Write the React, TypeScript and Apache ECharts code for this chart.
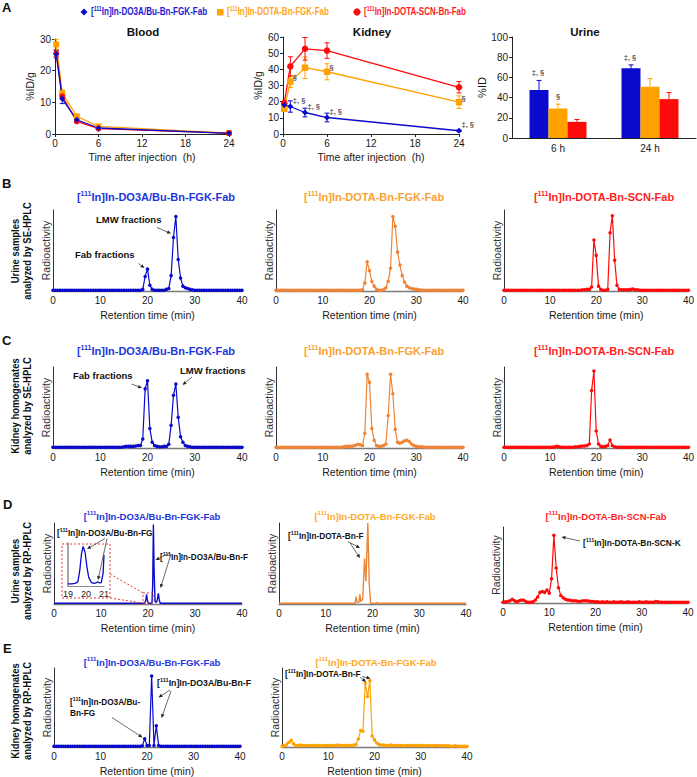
import React, { useEffect, useRef } from 'react';
import * as echarts from 'echarts';

const W = 697;
const H = 777;
const FONT = '"Liberation Sans", Arial, Helvetica, sans-serif';

const BLUE = '#0A0ACC';
const ORANGE = '#FFA200';
const ORANGE2 = '#F08436';
const RED = '#FF0A0A';
const T_BLUE = '#1E35DD';
const T_ORANGE = '#F7A232';
const T_RED = '#FF1E1E';

// ---------- Panel A data ----------
const timesH = [0.17, 1, 3, 6, 24];
const bloodBlue = [25.2, 11.1, 4.5, 1.9, 0.2];
const bloodBlueErr = [1.2, 1.5, 0.5, 0.4, 0.1];
const bloodOrange = [28.3, 12.9, 5.6, 2.4, 0.3];
const bloodOrangeErr = [1.6, 1.0, 0.5, 0.4, 0.1];
const bloodRed = [25.5, 11.9, 4.0, 1.7, 0.3];
const bloodRedErr = [1.0, 0.8, 0.4, 0.3, 0.1];

const kidBlue = [18, 17, 13.3, 10.2, 2];
const kidBlueErr = [1.5, 3.5, 2.7, 2.7, 0.5];
const kidOrange = [15.6, 32.4, 41, 38.5, 19.7];
const kidOrangeErr = [1, 3.7, 6.7, 5, 3.9];
const kidRed = [19, 41.8, 52.7, 51.6, 28.9];
const kidRedErr = [1.5, 6, 7, 4.8, 3.5];
const kidBlueSig = ['', '‡, §', '‡, §', '‡, §', '‡, §'];
const kidOrangeSig = ['', '§', '', '§', '§'];

const urineCats = ['6 h', '24 h'];
const urineBlue = [47.5, 69];
const urineBlueErr = [9.5, 3.4];
const urineOrange = [29.2, 50.8];
const urineOrangeErr = [4.3, 8];
const urineRed = [16, 38.5];
const urineRedErr = [2.3, 6.5];
const urineBlueSig = ['‡, §', '‡, §'];
const urineOrangeSig = ['§', ''];

// ---------- Chromatograms (relative radioactivity, sampled every 0.5 min from 0 to 40 min) ----------
const SAMPLE_STEP = 0.5;

const seUrineDO3A = [
  1, 1, 1, 1, 1, 1, 1, 1, 1, 1,
  1, 1, 1, 1, 1, 1, 1, 1, 1, 1,
  1, 1, 1, 1, 1, 1, 1, 1, 1, 1,
  1, 1, 1, 1, 1, 1, 1, 1, 2, 18,
  27, 7, 2, 1, 1, 1, 1, 1, 2, 3,
  19, 66, 92, 39, 16, 6, 4, 3, 2, 1.5,
  1, 1, 1, 1, 1, 1, 1, 1, 1, 1,
  1, 1, 1, 1, 1, 1, 1, 1, 1, 1,
  1,
];
const seUrineFGK = [
  1, 1, 1, 1, 1, 1, 1, 1, 1, 1,
  1, 1, 1, 1, 1, 1, 1, 1, 1, 1,
  1, 1, 1, 1, 1, 1, 1, 1, 1, 1,
  1, 1, 1, 1, 1, 1, 1, 1.5, 10, 36,
  25, 12, 6, 2, 1, 1, 1.5, 4, 12, 28,
  92, 80, 48, 32, 19, 11, 6, 4, 3, 2.5,
  2, 1.5, 1.2, 1, 1, 1, 1, 1, 1, 1,
  1, 1, 1, 1, 1, 1, 1, 1, 1, 1,
  1,
];
const seUrineSCN = [
  1, 1, 1, 1, 1, 1, 1, 1, 1, 1,
  1, 1, 1, 1, 1, 1, 1, 1, 1, 1,
  1, 1, 1, 1, 1, 1, 1, 1, 1, 1,
  1, 1, 1, 1, 1.5, 1.5, 2, 2, 5, 63,
  44, 6, 2, 1, 1, 2, 72, 93, 38, 7,
  2, 1.5, 1.5, 1.5, 1.5, 2, 2.5, 1.5, 1.5, 1,
  1, 1, 1, 1, 1, 1, 1, 1, 1, 1,
  1, 1, 1, 1, 1, 1, 1, 1, 1, 1,
  1,
];
const seKidDO3A = [
  1, 1, 1, 1, 1, 1, 1, 1, 1, 1,
  1, 1, 1, 1, 1, 1, 1, 1, 1, 1,
  1, 1, 1, 1, 1, 1, 1, 1, 1, 1,
  1.5, 2, 2, 2, 2, 2.5, 3, 3, 11, 73,
  83, 24, 7, 3, 2, 1.5, 1.5, 2, 2, 4.5,
  28, 65, 79, 38, 14, 7, 3, 2, 1.5, 1,
  1, 1, 1, 1, 1, 1, 1, 1, 1, 1,
  1, 1, 1, 1, 1, 1, 1, 1, 1, 1,
  1,
];
const seKidFGK = [
  1, 1, 1, 1, 1, 1, 1, 1, 1, 1,
  1, 1, 1, 1, 1, 1, 1, 1, 1, 1,
  1, 1, 1, 1, 1, 1, 1, 1, 1, 1.5,
  2, 2, 2, 2.5, 3.5, 4.5, 4, 3, 18, 91,
  81, 24, 9.5, 3, 2, 2, 3, 5, 40, 91,
  67, 23, 7, 6, 7, 9, 9.5, 8, 5, 3,
  2, 1.5, 1.5, 1.2, 1, 1, 1, 1, 1, 1,
  1, 1, 1, 1, 1, 1, 1, 1, 1, 1,
  1,
];
const seKidSCN = [
  1, 1, 1, 1, 1, 1, 1, 1, 1, 1,
  1, 1, 1, 1, 1, 1, 1, 1, 1, 1,
  1, 1, 1.5, 2, 1.5, 1, 1, 1, 1, 1,
  1, 1.5, 1.5, 2, 2.5, 2.5, 3, 5, 71, 95,
  21, 5, 2, 1.5, 2, 3, 10, 3, 1.5, 1,
  1, 1, 1, 1, 1, 1, 1, 1, 1, 1,
  1, 1, 1, 1, 1, 1, 1, 1, 1, 1,
  1, 1, 1, 1, 1, 1, 1, 1, 1, 1,
  1,
];
const rpUrineSCN = [
  1, 1.5, 2, 3, 5, 3, 1.5, 3, 4, 3.5,
  1.5, 1, 1, 1.5, 4, 8, 14, 15, 14, 17,
  13, 32, 89, 46, 20, 10, 7, 5, 4, 3.5,
  3, 3, 2.5, 2, 2.5, 3, 3, 2.5, 2, 2,
  1.5, 1.5, 1, 1.5, 1, 1.5, 1, 1, 1.5, 1,
  1, 1.5, 1, 1, 1.5, 1, 1, 1, 1, 1.5,
  1, 1, 1.5, 1, 1, 1, 2, 1.5, 1, 1,
  1, 1, 1, 1, 1, 1, 1, 1, 1, 1,
  1,
];
const rpKidDO3A = [
  1, 1, 1, 1, 1, 1, 1, 1, 1, 1,
  1, 1, 1, 1, 1, 1, 1, 1, 1, 1,
  1, 1, 1, 1, 1, 1, 1, 1, 1, 1,
  1, 1, 1, 1, 1, 1, 1, 1, 1.5, 10.5,
  2, 2, 90, 2, 27, 2, 1, 1, 1, 1,
  1, 1, 1, 1, 1, 1, 1, 1, 1, 1,
  1, 1, 1, 1, 1, 1, 1, 1, 1, 1,
  1, 1, 1, 1, 1, 1, 1, 1, 1, 1,
  1,
];
const rpKidFGK = [
  1, 1.5, 3, 6, 8.5, 4, 2, 2, 2.5, 2,
  2, 2, 1.5, 2, 2, 2, 2, 1.5, 2, 2,
  2, 2, 2, 2, 2.5, 2, 2, 2, 2, 2,
  2, 2.5, 3, 10, 21, 20, 81, 64, 84, 14,
  9, 5, 3, 2.5, 2.5, 2, 2, 2.5, 2, 2,
  2, 2, 2, 1.5, 2, 2, 2, 2, 1.5, 2,
  2, 2, 1.5, 2, 2, 1.5, 2, 2, 1.5, 1.5,
  1.5, 1.5, 1.5, 1, 1, 1.5, 1, 1, 1, 1,
  1,
];
// RP-HPLC urine (continuous traces, [min, relative activity])
const rpUrineDO3A = [
  [0, 1], [19.3, 1], [19.55, 5], [19.7, 12], [19.85, 5], [20.1, 1], [20.85, 1], [21.0, 25],
  [21.15, 98], [21.3, 40], [21.5, 3], [21.8, 2], [22.0, 6], [22.2, 13], [22.4, 5], [22.6, 1], [40, 1],
];
const rpUrineDO3AInset = [
  [19.0, 5], [19.2, 5], [19.4, 6], [19.55, 10], [19.65, 35], [19.75, 75], [19.84, 92], [19.95, 78],
  [20.05, 45], [20.15, 20], [20.3, 8], [20.45, 6], [20.55, 7], [20.65, 10], [20.75, 7], [20.85, 8],
  [20.95, 30], [21.0, 72],
];
const rpUrineFGK = [
  [0, 1], [16.3, 1], [16.5, 9], [16.7, 2], [17.1, 2], [17.3, 12], [17.5, 3], [17.9, 6], [18.3, 56],
  [18.6, 28], [19.0, 100], [19.3, 25], [19.6, 1], [20.8, 1], [20.9, 2], [21.1, 1], [40, 1],
];

const toPairs = (ys: number[]) => ys.map((y, i) => [i * SAMPLE_STEP, y]);

// ---------- helpers ----------
function sup(rest: string, size: number, color: string) {
  return {
    text: `{n|[}{s|111}{n|${rest}}`,
    rich: {
      n: { fontSize: size, fontWeight: 'bold', fill: color, color, fontFamily: FONT, lineHeight: size + 3 },
      s: { fontSize: Math.round(size * 0.64 * 10) / 10, fontWeight: 'bold', fill: color, color, fontFamily: FONT, verticalAlign: 'top' },
    },
  };
}

function txt(x: number, y: number, text: string, o: any = {}) {
  const align = o.align || 'left';
  const valign = o.valign || 'middle';
  const style: any = {
    text,
    fill: o.color || '#1a1a1a',
    fontSize: o.size || 10,
    fontWeight: o.bold ? 'bold' : 'normal',
    fontFamily: FONT,
    align,
    verticalAlign: valign,
    textAlign: align,
    textVerticalAlign: valign,
  };
  if (o.rich) style.rich = o.rich;
  if (o.lh) style.lineHeight = o.lh;
  return { type: 'text', x, y, rotation: o.rot || 0, scaleX: o.sx || 1, z: 100, silent: true, style };
}

function supTxt(x: number, y: number, rest: string, size: number, color: string, o: any = {}) {
  const s = sup(rest, size, color);
  return txt(x, y, s.text, { ...o, rich: s.rich, color, size, bold: true });
}

function arrow(x1: number, y1: number, x2: number, y2: number) {
  const dx = x2 - x1;
  const dy = y2 - y1;
  const L = Math.hypot(dx, dy);
  const ux = dx / L;
  const uy = dy / L;
  const hl = 4;
  const hw = 1.8;
  const bx = x2 - ux * hl;
  const by = y2 - uy * hl;
  return [
    { type: 'line', z: 100, silent: true, shape: { x1, y1, x2: bx, y2: by }, style: { stroke: '#444', lineWidth: 0.8 } },
    {
      type: 'polygon', z: 100, silent: true,
      shape: { points: [[x2, y2], [bx - uy * hw, by + ux * hw], [bx + uy * hw, by - ux * hw]] },
      style: { fill: '#222' },
    },
  ];
}

function errSeries(gi: number, xs: number[], vals: number[], errs: number[], color: string, dx = 0, both = true) {
  return {
    type: 'custom',
    xAxisIndex: gi,
    yAxisIndex: gi,
    silent: true,
    z: 3,
    data: xs.map((x, i) => [x, vals[i], errs[i]]),
    renderItem: (params: any, api: any) => {
      const x = api.value(0);
      const v = api.value(1);
      const e = api.value(2);
      const p1 = api.coord([x, v + e]);
      const p2 = api.coord([x, both ? Math.max(0, v - e) : v]);
      const c = 2.5;
      const st = { stroke: color, lineWidth: 1 };
      const children: any[] = [
        { type: 'line', shape: { x1: p1[0] + dx, y1: p1[1], x2: p2[0] + dx, y2: p2[1] }, style: st },
        { type: 'line', shape: { x1: p1[0] + dx - c, y1: p1[1], x2: p1[0] + dx + c, y2: p1[1] }, style: st },
      ];
      if (both) children.push({ type: 'line', shape: { x1: p2[0] - c, y1: p2[1], x2: p2[0] + c, y2: p2[1] }, style: st });
      return { type: 'group', children };
    },
  };
}

function buildOption() {
  const grid: any[] = [];
  const xAxis: any[] = [];
  const yAxis: any[] = [];
  const series: any[] = [];
  const els: any[] = [];

  const axisTxt = { fontSize: 10, color: '#1a1a1a', fontFamily: FONT };
  const blackLine = { show: true, lineStyle: { color: '#222', width: 1 } };

  // ---- Panel A: Blood (0) ----
  grid.push({ left: 55, top: 39, width: 174, height: 95 });
  xAxis.push({
    gridIndex: 0, type: 'value', min: 0, max: 24, interval: 6,
    axisLine: blackLine, axisTick: { show: true, length: 3, lineStyle: { color: '#222' } }, splitLine: { show: false },
    axisLabel: { ...axisTxt, margin: 4 },
    name: 'Time after injection  (h)', nameLocation: 'middle', nameGap: 17, nameTextStyle: { ...axisTxt, fontSize: 10.5 },
  });
  yAxis.push({
    gridIndex: 0, type: 'value', min: 0, max: 30, interval: 10,
    axisLine: blackLine, axisTick: { show: true, length: 3, lineStyle: { color: '#222' } }, splitLine: { show: false },
    axisLabel: { ...axisTxt, margin: 4 },
    name: '%ID/g', nameLocation: 'middle', nameGap: 20, nameTextStyle: { ...axisTxt, fontSize: 10.5 },
  });

  // ---- Kidney (1) ----
  grid.push({ left: 283, top: 37, width: 176, height: 97 });
  xAxis.push({
    gridIndex: 1, type: 'value', min: 0, max: 24, interval: 6,
    axisLine: blackLine, axisTick: { show: true, length: 3, lineStyle: { color: '#222' } }, splitLine: { show: false },
    axisLabel: { ...axisTxt, margin: 4 },
    name: 'Time after injection  (h)', nameLocation: 'middle', nameGap: 17, nameTextStyle: { ...axisTxt, fontSize: 10.5 },
  });
  yAxis.push({
    gridIndex: 1, type: 'value', min: 0, max: 60, interval: 10,
    axisLine: blackLine, axisTick: { show: true, length: 3, lineStyle: { color: '#222' } }, splitLine: { show: false },
    axisLabel: { ...axisTxt, margin: 4 },
    name: '%ID/g', nameLocation: 'middle', nameGap: 16, nameTextStyle: { ...axisTxt, fontSize: 10.5 },
  });

  // ---- Urine (2) ----
  grid.push({ left: 512, top: 37, width: 184, height: 101 });
  xAxis.push({
    gridIndex: 2, type: 'category', data: urineCats,
    axisLine: blackLine, axisTick: { show: false }, axisLabel: { ...axisTxt, margin: 5 },
  });
  yAxis.push({
    gridIndex: 2, type: 'value', min: 0, max: 100, interval: 20,
    axisLine: blackLine, axisTick: { show: true, length: 3, lineStyle: { color: '#222' } }, splitLine: { show: false },
    axisLabel: { ...axisTxt, margin: 4 },
    name: '%ID', nameLocation: 'middle', nameGap: 22, nameTextStyle: { ...axisTxt, fontSize: 11 },
  });

  const lineS = (gi: number, xs: number[], ys: number[], color: string, symbol: string, size: number) => ({
    type: 'line', xAxisIndex: gi, yAxisIndex: gi, silent: true, z: 4,
    data: xs.map((x, i) => [x, ys[i]]), symbol, symbolSize: size, showSymbol: true,
    lineStyle: { color, width: 1.3 }, itemStyle: { color },
  });

  // blood
  series.push(errSeries(0, timesH, bloodOrange, bloodOrangeErr, ORANGE));
  series.push(errSeries(0, timesH, bloodRed, bloodRedErr, RED));
  series.push(errSeries(0, timesH, bloodBlue, bloodBlueErr, BLUE));
  series.push(lineS(0, timesH, bloodOrange, ORANGE, 'rect', 6));
  series.push(lineS(0, timesH, bloodRed, RED, 'circle', 6));
  series.push(lineS(0, timesH, bloodBlue, BLUE, 'diamond', 6));
  // kidney
  series.push(errSeries(1, timesH, kidOrange, kidOrangeErr, ORANGE));
  series.push(errSeries(1, timesH, kidRed, kidRedErr, RED));
  series.push(errSeries(1, timesH, kidBlue, kidBlueErr, BLUE));
  series.push(lineS(1, timesH, kidOrange, ORANGE, 'rect', 6.5));
  series.push(lineS(1, timesH, kidRed, RED, 'circle', 6.5));
  series.push(lineS(1, timesH, kidBlue, BLUE, 'diamond', 6));
  const sigLabel = { show: true, position: 'right', distance: 2, fontSize: 7.5, fontWeight: 'bold', color: '#222', fontFamily: FONT };
  series.push({
    type: 'scatter', xAxisIndex: 1, yAxisIndex: 1, silent: true, z: 6, symbolSize: 1,
    itemStyle: { color: 'rgba(0,0,0,0)' },
    data: timesH.map((t, i) => ({ value: [t, kidBlue[i]], label: { ...sigLabel, offset: [0, -6], formatter: kidBlueSig[i] } })),
  });
  series.push({
    type: 'scatter', xAxisIndex: 1, yAxisIndex: 1, silent: true, z: 6, symbolSize: 1,
    itemStyle: { color: 'rgba(0,0,0,0)' },
    data: timesH.map((t, i) => ({ value: [t, kidOrange[i]], label: { ...sigLabel, offset: [0, -4], formatter: kidOrangeSig[i] } })),
  });
  // urine bars
  const barS = (vals: number[], color: string) => ({
    type: 'bar', xAxisIndex: 2, yAxisIndex: 2, silent: true, data: vals, barWidth: 19, barGap: '0%',
    itemStyle: { color },
  });
  series.push(barS(urineBlue, BLUE));
  series.push(barS(urineOrange, ORANGE));
  series.push(barS(urineRed, RED));
  series.push(errSeries(2, [0, 1], urineBlue, urineBlueErr, BLUE, -19, false));
  series.push(errSeries(2, [0, 1], urineOrange, urineOrangeErr, ORANGE, 0, false));
  series.push(errSeries(2, [0, 1], urineRed, urineRedErr, RED, 19, false));
  series.push({
    type: 'scatter', xAxisIndex: 2, yAxisIndex: 2, silent: true, z: 6, symbolSize: 1,
    itemStyle: { color: 'rgba(0,0,0,0)' },
    data: [0, 1].map((c, i) => ({
      value: [c, urineBlue[i] + urineBlueErr[i]],
      label: { show: true, position: 'top', distance: 3, offset: [-20, 0], formatter: urineBlueSig[i], fontSize: 7.5, fontWeight: 'bold', color: '#222' },
    })),
  });
  series.push({
    type: 'scatter', xAxisIndex: 2, yAxisIndex: 2, silent: true, z: 6, symbolSize: 1,
    itemStyle: { color: 'rgba(0,0,0,0)' },
    data: [0, 1].map((c, i) => ({
      value: [c, urineOrange[i] + urineOrangeErr[i]],
      label: { show: true, position: 'top', distance: 3, offset: [0, 0], formatter: urineOrangeSig[i], fontSize: 7.5, fontWeight: 'bold', color: '#222' },
    })),
  });

  // ---- Chromatograms ----
  const chroms: any[] = [
    { l: 53, t: 210, w: 189, h: 81, c: BLUE, d: toPairs(seUrineDO3A), m: true },
    { l: 276, t: 210, w: 187, h: 81, c: ORANGE2, d: toPairs(seUrineFGK), m: true },
    { l: 504, t: 210, w: 186, h: 81, c: RED, d: toPairs(seUrineSCN), m: true },
    { l: 53, t: 367, w: 189, h: 81, c: BLUE, d: toPairs(seKidDO3A), m: true },
    { l: 276, t: 367, w: 187, h: 81, c: ORANGE2, d: toPairs(seKidFGK), m: true },
    { l: 504, t: 367, w: 186, h: 81, c: RED, d: toPairs(seKidSCN), m: true },
    { l: 54, t: 523, w: 188, h: 81, c: BLUE, d: rpUrineDO3A, m: false },
    { l: 279, t: 523, w: 187, h: 81, c: ORANGE2, d: rpUrineFGK, m: false },
    { l: 503, t: 527, w: 185, h: 76, c: RED, d: toPairs(rpUrineSCN), m: true },
    { l: 54, t: 668, w: 186, h: 79, c: BLUE, d: toPairs(rpKidDO3A), m: true },
    { l: 282, t: 668, w: 185, h: 79, c: ORANGE, d: toPairs(rpKidFGK), m: true },
  ];
  chroms.forEach((ch) => {
    const gi = grid.length;
    grid.push({ left: ch.l, top: ch.t, width: ch.w, height: ch.h });
    xAxis.push({
      gridIndex: gi, type: 'value', min: 0, max: 40, interval: 10,
      axisLine: { show: true, onZero: true, lineStyle: { color: '#7a7a7a', width: 1.3 } },
      axisTick: { show: false }, splitLine: { show: false },
      axisLabel: { ...axisTxt, margin: 4 },
      name: 'Retention time (min)', nameLocation: 'middle', nameGap: 18, nameTextStyle: { ...axisTxt, fontSize: 10.5 },
    });
    yAxis.push({
      gridIndex: gi, type: 'value', min: 0, max: 100,
      axisLine: { show: true, lineStyle: { color: '#333', width: 1 } },
      axisTick: { show: false }, axisLabel: { show: false }, splitLine: { show: false },
      name: 'Radioactivity', nameLocation: 'middle', nameGap: 2, nameTextStyle: { ...axisTxt, fontSize: 10.5, color: '#333' },
    });
    series.push({
      type: 'line', xAxisIndex: gi, yAxisIndex: gi, silent: true, data: ch.d,
      symbol: ch.m ? 'circle' : 'none', symbolSize: 3.5, showSymbol: ch.m,
      lineStyle: { color: ch.c, width: ch.m ? 1.2 : 1.4 }, itemStyle: { color: ch.c },
    });
  });

  // inset for D1
  {
    const gi = grid.length;
    grid.push({ left: 68, top: 543, width: 36, height: 43 });
    xAxis.push({
      gridIndex: gi, type: 'value', min: 19, max: 21, interval: 1,
      axisLine: { show: true, lineStyle: { color: '#8a8a8a', width: 1.2 } }, axisTick: { show: false },
      splitLine: { show: false }, axisLabel: { fontSize: 9, color: '#1a1a1a', margin: 3, fontFamily: FONT },
    });
    yAxis.push({
      gridIndex: gi, type: 'value', min: 0, max: 100,
      axisLine: { show: true, lineStyle: { color: '#8a8a8a', width: 1.5 } }, axisTick: { show: false },
      axisLabel: { show: false }, splitLine: { show: false },
    });
    series.push({
      type: 'line', xAxisIndex: gi, yAxisIndex: gi, silent: true, data: rpUrineDO3AInset,
      symbol: 'none', lineStyle: { color: BLUE, width: 1.3 },
    });
  }

  // ---- Graphics: letters, legend, titles, labels ----
  els.push(txt(2, 7, 'A', { size: 13, bold: true, color: '#111' }));
  els.push(txt(2, 183, 'B', { size: 13, bold: true, color: '#111' }));
  els.push(txt(2, 340, 'C', { size: 13, bold: true, color: '#111' }));
  els.push(txt(3, 504, 'D', { size: 13, bold: true, color: '#111' }));
  els.push(txt(3, 648, 'E', { size: 13, bold: true, color: '#111' }));

  // legend
  els.push({ type: 'polygon', z: 100, silent: true, shape: { points: [[84, 8.5], [87.5, 12], [84, 15.5], [80.5, 12]] }, style: { fill: BLUE } });
  els.push(supTxt(91, 12, 'In]In-DO3A/Bu-Bn-FGK-Fab', 10, '#1C1CD6', { sx: 0.81 }));
  els.push({ type: 'rect', z: 100, silent: true, shape: { x: 217, y: 9, width: 6.5, height: 6.5 }, style: { fill: ORANGE } });
  els.push(supTxt(227, 12, 'In]In-DOTA-Bn-FGK-Fab', 10, '#FFA51E', { sx: 0.8 }));
  els.push({ type: 'circle', z: 100, silent: true, shape: { cx: 357, cy: 12, r: 3.6 }, style: { fill: RED } });
  els.push(supTxt(364, 12, 'In]In-DOTA-SCN-Bn-Fab', 10, T_RED, { sx: 0.8 }));

  // panel A titles
  els.push(txt(143, 32, 'Blood', { size: 11.5, bold: true, align: 'center', color: '#111' }));
  els.push(txt(372, 32, 'Kidney', { size: 11.5, bold: true, align: 'center', color: '#111' }));
  els.push(txt(585, 32, 'Urine', { size: 11.5, bold: true, align: 'center', color: '#111' }));

  // chromatogram titles
  const tB = [197, 351];
  tB.forEach((y) => {
    els.push(supTxt(156, y, 'In]In-DO3A/Bu-Bn-FGK-Fab', 11, T_BLUE, { align: 'center' }));
    els.push(supTxt(374, y, 'In]In-DOTA-Bn-FGK-Fab', 11, T_ORANGE, { align: 'center' }));
    els.push(supTxt(604, y, 'In]In-DOTA-Bn-SCN-Fab', 11, T_RED, { align: 'center' }));
  });
  els.push(supTxt(152, 516, 'In]In-DO3A/Bu-Bn-FGK-Fab', 9.5, T_BLUE, { align: 'center' }));
  els.push(supTxt(375, 516, 'In]In-DOTA-Bn-FGK-Fab', 9.5, '#FFA828', { align: 'center' }));
  els.push(supTxt(606, 516, 'In]In-DOTA-Bn-SCN-Fab', 9.5, T_RED, { align: 'center' }));
  els.push(supTxt(152, 662, 'In]In-DO3A/Bu-Bn-FGK-Fab', 9.5, T_BLUE, { align: 'center' }));
  els.push(supTxt(376, 662, 'In]In-DOTA-Bn-FGK-Fab', 9.5, '#FFA828', { align: 'center' }));

  // row labels (rotated)
  const rowLab = (y: number, text: string) =>
    txt(21, y, text, { size: 10.5, bold: true, align: 'center', valign: 'middle', rot: Math.PI / 2, sx: 0.9, lh: 12, color: '#111' });
  els.push(rowLab(251, 'Urine samples\nanalyzed by SE-HPLC'));
  els.push(rowLab(406, 'Kidney homogenates\nanalyzed by SE-HPLC'));
  els.push(rowLab(571, 'Urine samples\nanalyzed by RP-HPLC'));
  els.push(rowLab(711, 'Kidney homogenates\nanalyzed by RP-HPLC'));

  // SE annotations
  els.push(txt(96, 219, 'LMW fractions', { size: 9.5, bold: true, color: '#111' }));
  els.push(...arrow(157, 227.5, 171, 233.5));
  els.push(txt(75, 254, 'Fab fractions', { size: 9.5, bold: true, color: '#111' }));
  els.push(...arrow(138.5, 263.5, 144.5, 268));
  els.push(txt(73, 375, 'Fab fractions', { size: 9.5, bold: true, color: '#111' }));
  els.push(...arrow(131.5, 384, 142, 388));
  els.push(txt(180, 370, 'LMW fractions', { size: 9.5, bold: true, color: '#111' }));
  els.push(...arrow(192, 377, 182.5, 385));

  // D1 annotations and inset box
  els.push(supTxt(57, 533, 'In]In-DO3A/Bu-Bn-FG', 9.5, '#111', { sx: 0.87 }));
  els.push(...arrow(105, 538.5, 87, 549));
  els.push(...arrow(107, 538.5, 98, 580));
  els.push(supTxt(160, 557, 'In]In-DO3A/Bu-Bn-F', 9.5, '#111', { sx: 0.86 }));
  els.push(...arrow(170, 553, 155.5, 560));
  els.push(...arrow(171, 554, 160.5, 588));
  const dash = { fill: 'none', stroke: '#E83A3A', lineWidth: 1, lineDash: [2, 2] };
  els.push({ type: 'rect', z: 99, silent: true, shape: { x: 62, y: 544, width: 48, height: 54 }, style: dash });
  els.push({ type: 'rect', z: 99, silent: true, shape: { x: 143, y: 593, width: 10, height: 10 }, style: dash });
  els.push({ type: 'line', z: 99, silent: true, shape: { x1: 110, y1: 574, x2: 143, y2: 593 }, style: dash });
  els.push({ type: 'line', z: 99, silent: true, shape: { x1: 110, y1: 598, x2: 143, y2: 603 }, style: dash });

  // D2
  els.push(supTxt(288, 536, 'In]In-DOTA-Bn-F', 9.5, '#111', { sx: 0.87 }));
  els.push(...arrow(348, 541.5, 360, 548));
  els.push(...arrow(350, 543, 360, 558));
  // D3
  els.push(supTxt(583, 543, 'In]In-DOTA-Bn-SCN-K', 9.5, '#111', { sx: 0.88 }));
  els.push(...arrow(580, 541, 561.5, 537));
  // E1
  els.push(supTxt(70, 702, 'In]In-DO3A/Bu-', 9.5, '#111', { sx: 0.87 }));
  els.push(txt(70, 713, 'Bn-FG', { size: 9.5, bold: true, color: '#111', sx: 0.87 }));
  els.push(...arrow(112, 717.5, 142.5, 737.5));
  els.push(supTxt(157, 683, 'In]In-DO3A/Bu-Bn-F', 9.5, '#111', { sx: 0.92 }));
  els.push(...arrow(170, 690, 158.5, 697.5));
  els.push(...arrow(171, 691, 161.5, 718));
  // E2
  els.push(supTxt(285, 674, 'In]In-DOTA-Bn-F', 9.5, '#111', { sx: 0.87 }));
  els.push(...arrow(360, 677, 366, 682));
  els.push(...arrow(362, 676.5, 370.5, 678.5));

  return {
    animation: false,
    backgroundColor: '#ffffff',
    textStyle: { fontFamily: FONT },
    grid,
    xAxis,
    yAxis,
    series,
    graphic: { elements: els },
  };
}

export default function App() {
  const ref = useRef<HTMLDivElement>(null);
  useEffect(() => {
    document.body.style.margin = '0';
    const chart = echarts.init(ref.current as HTMLDivElement, null, { renderer: 'svg' });
    chart.setOption(buildOption() as any);
    return () => chart.dispose();
  }, []);
  return <div ref={ref} style={{ width: W, height: H, background: '#fff' }} />;
}
